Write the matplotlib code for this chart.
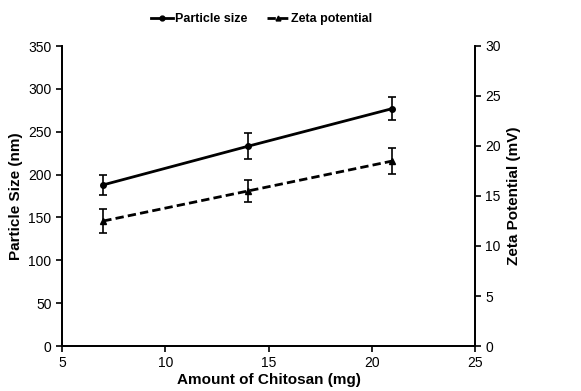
import numpy as np
import matplotlib.pyplot as plt
from matplotlib.lines import Line2D

plt.rcParams['font.family'] = ['Liberation Sans', 'DejaVu Sans']

chitosan = [7, 14, 21]
size_nm = [188, 233, 277]
size_err = [12, 15, 13]
zeta_mv = [12.5, 15.5, 18.5]
zeta_err = [1.2, 1.1, 1.3]

fig = plt.figure(figsize=(5.81, 3.91), dpi=100)
ax = fig.add_axes([62/581, 45/391, 413/581, 300/391])
ax2 = ax.twinx()

dash = (0, (3, 1.5))
ax.errorbar(chitosan, size_nm, yerr=size_err, color='black', lw=2, marker='o', ms=4,
            capsize=3, elinewidth=1.2, capthick=1.2)
ax2.errorbar(chitosan, zeta_mv, yerr=zeta_err, color='black', lw=2, ls=dash, marker='^', ms=4,
             capsize=3, elinewidth=1.2, capthick=1.2)

ax.set_xlim(5, 25)
ax.set_ylim(0, 350)
ax2.set_ylim(0, 30)
ax.set_xticks([5, 10, 15, 20, 25])
ax.set_yticks(np.arange(0, 351, 50))
ax2.set_yticks(np.arange(0, 31, 5))

for a in (ax, ax2):
    a.spines['top'].set_visible(False)
    for s in a.spines.values():
        s.set_linewidth(1.3)
    a.tick_params(direction='out', length=4, width=1.2, labelsize=10)

ax.set_xlabel('Amount of Chitosan (mg)', fontweight='bold', fontsize=11, labelpad=2)
ax.set_ylabel('Particle Size (nm)', fontweight='bold', fontsize=11)
ax2.set_ylabel('Zeta Potential (mV)', fontweight='bold', fontsize=11)

handles = [Line2D([], [], color='black', lw=2, marker='o', ms=3.5),
           Line2D([], [], color='black', lw=2, ls=dash, marker='^', ms=3.5)]
fig.legend(handles, ['Particle size', 'Zeta potential'], loc='upper center',
           bbox_to_anchor=(0.45, 0.995), ncol=2, frameon=False,
           prop={'weight': 'bold', 'size': 9}, handlelength=1.8, handletextpad=0.1, columnspacing=1.6)

fig.savefig('out.png', dpi=100)
